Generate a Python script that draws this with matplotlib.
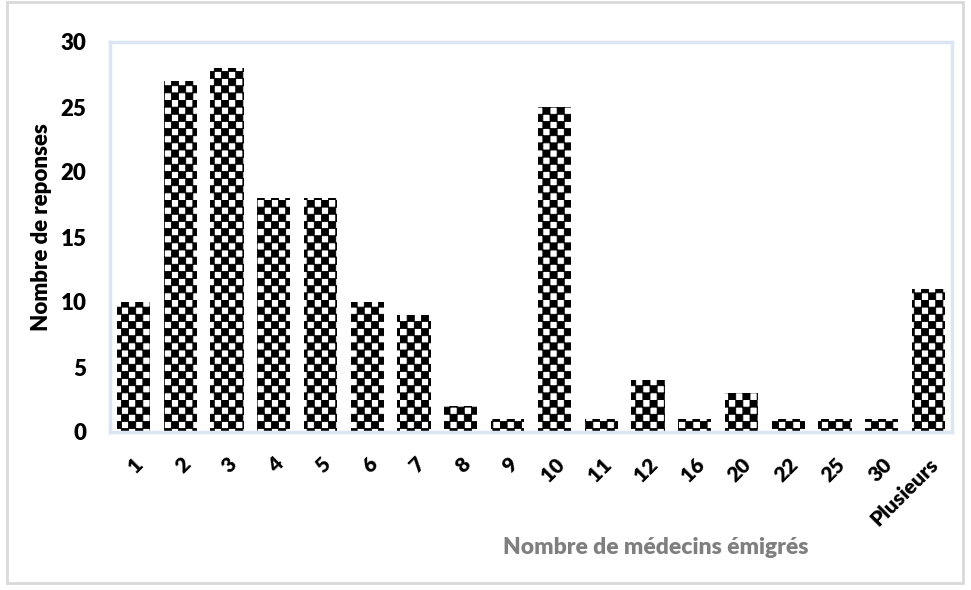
import warnings
import numpy as np
import matplotlib
matplotlib.use("Agg")
import matplotlib.pyplot as plt
import matplotlib.hatch as mhatch
from matplotlib.path import Path
from matplotlib.patches import Rectangle

categories = ["1", "2", "3", "4", "5", "6", "7", "8", "9", "10", "11", "12",
              "16", "20", "22", "25", "30", "Plusieurs"]
responses = [10, 27, 28, 18, 18, 10, 9, 2, 1, 25, 1, 4, 1, 3, 1, 1, 1, 11]
y_ticks = [0, 5, 10, 15, 20, 25, 30]


class CheckerHatch(mhatch.HatchPatternBase):
    """Filled checkerboard hatch, selected with '*' (14 cells per unit per '*')."""

    def __init__(self, hatch, density):
        self.n = hatch.count("*") * 14
        n_squares = (self.n * self.n) // 2 if self.n else 0
        self.num_vertices = n_squares * 5

    def set_vertices_and_codes(self, vertices, codes):
        c = 1.0 / self.n
        square = np.array([[0, 0], [1, 0], [1, 1], [0, 1], [0, 0]], float) * c
        sq_codes = [Path.MOVETO, Path.LINETO, Path.LINETO, Path.LINETO,
                    Path.CLOSEPOLY]
        k = 0
        for i in range(self.n):
            for j in range(self.n):
                if (i + j) % 2 == 0:
                    vertices[k:k + 5] = square + [i * c, j * c]
                    codes[k:k + 5] = sq_codes
                    k += 5


mhatch._hatch_types = [t for t in mhatch._hatch_types if t is not mhatch.Stars]
mhatch._hatch_types.append(CheckerHatch)

plt.rcParams["font.family"] = ["Lato", "DejaVu Sans"]
plt.rcParams["hatch.linewidth"] = 0.6

fig = plt.figure(figsize=(9.71, 5.90), dpi=100)
fig.patch.set_facecolor("white")

# light grey frame around the whole chart
fig.add_artist(Rectangle((7 / 971, 7 / 590), 956 / 971, 581 / 590,
                         transform=fig.transFigure, fill=False,
                         edgecolor="#d9d9d9", linewidth=2))

ax = fig.add_axes([110 / 971, 1 - 432 / 590, 842 / 971, (432 - 42) / 590])
x = range(len(categories))
ax.bar(x, responses, width=0.71, color="white", edgecolor="black",
       hatch="*", linewidth=0)

ax.set_xlim(-0.5, len(categories) - 0.5)
ax.set_ylim(0, 30)
ax.set_yticks(y_ticks)
ax.set_yticklabels([str(v) for v in y_ticks], fontsize=16, fontweight="heavy")
ax.set_xticks(list(x))
ax.set_xticklabels(categories, rotation=45, ha="right", rotation_mode="anchor",
                   fontsize=15, fontweight="heavy")
ax.tick_params(axis="y", length=0, pad=17)
ax.tick_params(axis="x", length=0, pad=16)

for side in ax.spines.values():
    side.set_edgecolor("#dce6f2")
    side.set_linewidth(2.5)

ax.set_ylabel("Nombre de reponses", fontsize=16, fontweight="heavy")
ax.yaxis.set_label_coords(-58 / 842, 0.526)
fig.text(656 / 971, 1 - 547 / 590, "Nombre de médecins émigrés", ha="center",
         va="center", fontsize=16.5, fontweight="heavy", color="#7f7f7f")

with warnings.catch_warnings():
    warnings.simplefilter("ignore")
    fig.savefig("out.png", dpi=100)
